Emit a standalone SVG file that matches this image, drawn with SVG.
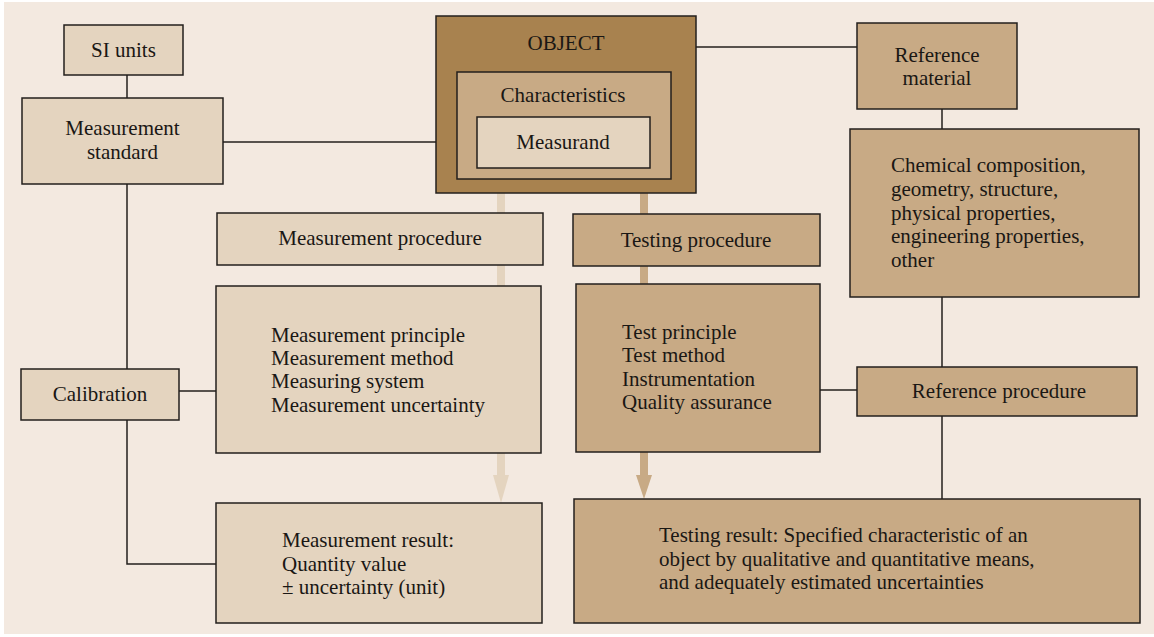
<svg xmlns="http://www.w3.org/2000/svg" width="1154" height="637" viewBox="0 0 1154 637">
<style>
  .box{stroke:#231f1c;stroke-width:1.5}
  .l{fill:#e4d4bf}
  .m{fill:#c8aa85}
  .d{fill:#a8824f}
  .t{font-family:"Liberation Serif","Times New Roman",serif;font-size:21px;fill:#1a1714}
  .c{text-anchor:middle}
  .ln{stroke:#231f1c;stroke-width:1.5;fill:none}
</style>
<rect x="4" y="2" width="1150" height="632" fill="#f3e9e0"/>
<g id="connectors">
  <rect x="497" y="193" width="8" height="284" fill="#e4d4bf"/>
  <polygon points="493,475 509,475 501,503" fill="#e4d4bf"/>
  <rect x="640" y="193" width="8" height="284" fill="#c8aa85"/>
  <polygon points="636,475 652,475 644,499" fill="#c8aa85"/>
  <path class="ln" d="M127,75 V98"/>
  <path class="ln" d="M223,142 H477"/>
  <path class="ln" d="M127,184 V369"/>
  <path class="ln" d="M179,391 H216"/>
  <path class="ln" d="M127,420 V564 H216"/>
  <path class="ln" d="M696,47 H857"/>
  <path class="ln" d="M942,109 V129"/>
  <path class="ln" d="M942,297 V367"/>
  <path class="ln" d="M942,416 V499"/>
  <path class="ln" d="M820,390 H857"/>
</g>
<g id="si-units">
  <rect class="box l" x="64" y="25" width="119" height="50"/>
  <text class="t c" x="123.5" y="57">SI units</text>
</g>
<g id="measurement-standard">
  <rect class="box l" x="22" y="98" width="201" height="86"/>
  <text class="t c" x="122.5" y="135">Measurement</text>
  <text class="t c" x="122.5" y="159">standard</text>
</g>
<g id="object">
  <rect class="box d" x="436" y="16" width="260" height="177"/>
  <text class="t c" x="566" y="50">OBJECT</text>
</g>
<g id="characteristics">
  <rect class="box m" x="457" y="72" width="214" height="107"/>
  <text class="t c" x="563" y="102">Characteristics</text>
</g>
<g id="measurand">
  <rect class="box l" x="477" y="117" width="173" height="51"/>
  <text class="t c" x="563" y="149">Measurand</text>
</g>
<g id="reference-material">
  <rect class="box m" x="857" y="23" width="160" height="86"/>
  <text class="t c" x="937" y="62">Reference</text>
  <text class="t c" x="937" y="85">material</text>
</g>
<g id="properties">
  <rect class="box m" x="850" y="129" width="289" height="168"/>
  <text class="t" x="891" y="172">Chemical composition,</text>
  <text class="t" x="891" y="196">geometry, structure,</text>
  <text class="t" x="891" y="220">physical properties,</text>
  <text class="t" x="891" y="243">engineering properties,</text>
  <text class="t" x="891" y="267">other</text>
</g>
<g id="measurement-procedure">
  <rect class="box l" x="217" y="213" width="326" height="52"/>
  <text class="t c" x="380" y="245">Measurement procedure</text>
</g>
<g id="testing-procedure">
  <rect class="box m" x="573" y="214" width="247" height="52"/>
  <text class="t c" x="696" y="247">Testing procedure</text>
</g>
<g id="measurement-details">
  <rect class="box l" x="216" y="286" width="325" height="167"/>
  <text class="t" x="271" y="342">Measurement principle</text>
  <text class="t" x="271" y="365">Measurement method</text>
  <text class="t" x="271" y="388">Measuring system</text>
  <text class="t" x="271" y="412">Measurement uncertainty</text>
</g>
<g id="test-details">
  <rect class="box m" x="576" y="284" width="244" height="168"/>
  <text class="t" x="622" y="339">Test principle</text>
  <text class="t" x="622" y="362">Test method</text>
  <text class="t" x="622" y="386">Instrumentation</text>
  <text class="t" x="622" y="409">Quality assurance</text>
</g>
<g id="calibration">
  <rect class="box l" x="21" y="369" width="158" height="51"/>
  <text class="t c" x="100" y="401">Calibration</text>
</g>
<g id="reference-procedure">
  <rect class="box m" x="857" y="367" width="280" height="49"/>
  <text class="t c" x="999" y="398">Reference procedure</text>
</g>
<g id="measurement-result">
  <rect class="box l" x="216" y="503" width="326" height="120"/>
  <text class="t" x="282" y="547">Measurement result:</text>
  <text class="t" x="282" y="571">Quantity value</text>
  <text class="t" x="282" y="594">± uncertainty (unit)</text>
</g>
<g id="testing-result">
  <rect class="box m" x="574" y="499" width="566" height="124"/>
  <text class="t" x="659" y="542">Testing result: Specified characteristic of an</text>
  <text class="t" x="659" y="566">object by qualitative and quantitative means,</text>
  <text class="t" x="659" y="589">and adequately estimated uncertainties</text>
</g>
</svg>
